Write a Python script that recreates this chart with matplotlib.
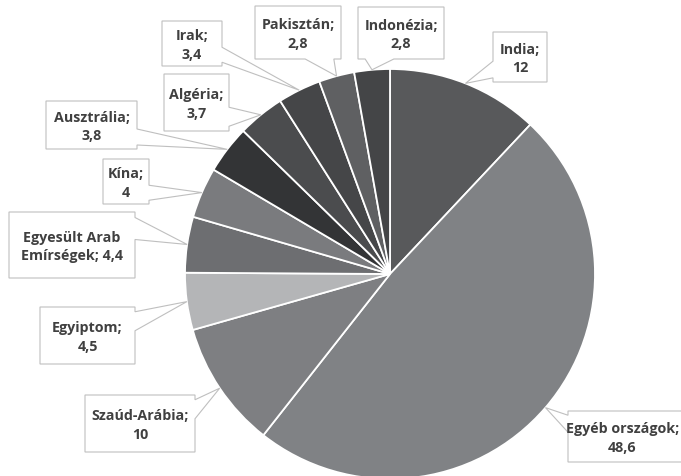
import matplotlib
matplotlib.use('Agg')
import matplotlib.pyplot as plt
import numpy as np
from matplotlib.patches import Polygon

# ---- data ----
countries = ['India', 'Egyéb országok', 'Szaúd-Arábia', 'Egyiptom',
             'Egyesült Arab Emírségek', 'Kína', 'Ausztrália', 'Algéria',
             'Irak', 'Pakisztán', 'Indonézia']
values = [12, 48.6, 10, 4.5, 4.4, 4, 3.8, 3.7, 3.4, 2.8, 2.8]
label_texts = ['India;\n12', 'Egyéb országok;\n48,6', 'Szaúd-Arábia;\n10',
               'Egyiptom;\n4,5', 'Egyesült Arab\nEmírségek; 4,4', 'Kína;\n4',
               'Ausztrália;\n3,8', 'Algéria;\n3,7', 'Irak;\n3,4',
               'Pakisztán;\n2,8', 'Indonézia;\n2,8']
colors = ['#58595b', '#808285', '#7e7f82', '#b4b5b7', '#6d6e71', '#7a7b7e',
          '#333436', '#4b4c4e', '#454648', '#5f6062', '#444547']

# ---- layout (pixel positions of label boxes: x0, y0, x1, y1) ----
boxes = [(493, 33, 547, 83), (568, 412, 684, 463), (85, 396, 195, 453),
         (40, 308, 135, 365), (9, 213, 135, 279), (103, 160, 149, 205),
         (46, 102, 137, 150), (164, 75, 229, 132), (162, 22, 222, 67),
         (255, 7, 341, 60), (358, 8, 444, 60)]

W, H = 681, 477
CX, CY, R = 390, 275, 205


def p2d(x, y):
    return ((x - CX) / R, (CY - y) / R)


fig = plt.figure(figsize=(W / 100, H / 100), dpi=100)
ax = fig.add_axes([0, 0, 1, 1])
ax.pie(values, colors=colors, startangle=90, counterclock=False, radius=1,
       center=(0, 0), wedgeprops=dict(edgecolor='white', linewidth=1.3))
ax.set_aspect('auto')
ax.set_xlim(p2d(0, 0)[0], p2d(W, 0)[0])
ax.set_ylim(p2d(0, H)[1], p2d(0, 0)[1])
ax.axis('off')

total = sum(values)
cum = 0.0
texts = []
for v, txt, (x0, y0, x1, y1) in zip(values, label_texts, boxes):
    theta = np.deg2rad(90 - 360 * (cum + v / 2) / total)
    cum += v
    tx, ty = CX + R * np.cos(theta), CY - R * np.sin(theta)
    w, h = x1 - x0, y1 - y0
    cx, cy = (x0 + x1) / 2, (y0 + y1) / 2
    xr, yr = (tx - cx) / w, (ty - cy) / h
    if abs(xr) > abs(yr):
        side = 'right' if xr > 0 else 'left'
    else:
        side = 'bottom' if yr > 0 else 'top'
    fx = (1 / 12, 5 / 12) if tx < cx else (7 / 12, 11 / 12)
    fy = (1 / 12, 5 / 12) if ty < cy else (7 / 12, 11 / 12)
    pts = [(x0, y0)]
    if side == 'top':
        pts += [(x0 + fx[0] * w, y0), (tx, ty), (x0 + fx[1] * w, y0)]
    pts.append((x1, y0))
    if side == 'right':
        pts += [(x1, y0 + fy[0] * h), (tx, ty), (x1, y0 + fy[1] * h)]
    pts.append((x1, y1))
    if side == 'bottom':
        pts += [(x0 + fx[1] * w, y1), (tx, ty), (x0 + fx[0] * w, y1)]
    pts.append((x0, y1))
    if side == 'left':
        pts += [(x0, y0 + fy[1] * h), (tx, ty), (x0, y0 + fy[0] * h)]
    dpts = [p2d(px, py) for px, py in pts]
    ax.add_patch(Polygon(dpts, closed=True, facecolor='white',
                         edgecolor='#bfbfbf', linewidth=0.8, zorder=5,
                         clip_on=False))
    t = ax.text(*p2d(cx, cy + 1), txt, ha='center', va='center',
                fontsize=10.3, fontweight='bold', color='#404040',
                family=['Open Sans', 'DejaVu Sans'],
                linespacing=1.4, zorder=6)
    texts.append((t, cx, cy))

# keep texts inside the picture
fig.canvas.draw()
renderer = fig.canvas.get_renderer()
for t, cx, cy in texts:
    bb = t.get_window_extent(renderer)
    over = bb.x1 - (W - 2)
    if over > 0:
        t.set_position(p2d(cx - over, cy + 1))

fig.savefig('out.png', dpi=100)
